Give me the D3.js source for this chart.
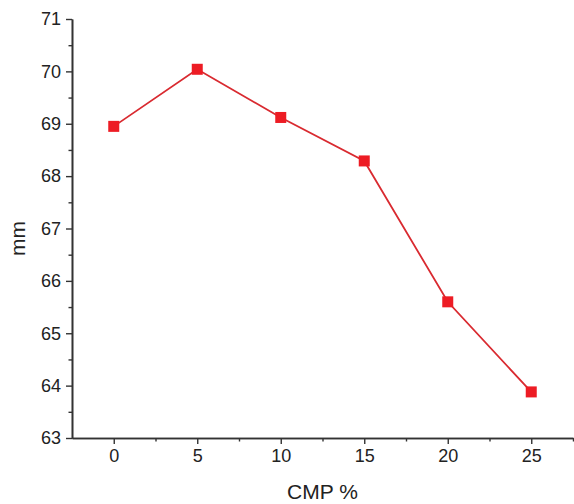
<!DOCTYPE html>
<html><head><meta charset="utf-8">
<script src="https://cdn.jsdelivr.net/npm/d3@7"></script>
<style>body{margin:0;background:#fff}svg{display:block}text{font-family:"Liberation Sans",Arial,sans-serif;fill:#222}</style>
</head><body><svg id="c" width="574" height="504"></svg>
<script>
const cmp = [0, 5, 10, 15, 20, 25];
const mm = [68.95, 70.04, 69.12, 68.29, 65.60, 63.88];
const xTicks = [0, 5, 10, 15, 20, 25];
const yTicks = [63, 64, 65, 66, 67, 68, 69, 70, 71];
const xTitle = "CMP %";
const yTitle = "mm";

const svg = d3.select("#c");
const L = 72, R = 573, T = 19, B = 438;
const x = d3.scaleLinear().domain([-2.5, 27.5]).range([L, R]);
const y = d3.scaleLinear().domain([63, 71]).range([B, T]);

const axisColor = "#333";
const xMinor = d3.range(-2.5, 27.6, 2.5).filter(v => !xTicks.includes(v) && v > -2.5);
const yMinor = d3.range(63.5, 71, 1);

const gx = svg.append("g").attr("transform", `translate(0,${B})`)
  .call(d3.axisBottom(x).tickValues(xTicks).tickSize(6).tickPadding(5).tickSizeOuter(0));
gx.append("g").call(d3.axisBottom(x).tickValues(xMinor).tickSize(3.5).tickFormat("").tickSizeOuter(0));
const gy = svg.append("g").attr("transform", `translate(${L},0)`)
  .call(d3.axisLeft(y).tickValues(yTicks).tickSize(6).tickPadding(5).tickSizeOuter(0));
gy.append("g").call(d3.axisLeft(y).tickValues(yMinor).tickSize(3.5).tickFormat("").tickSizeOuter(0));

svg.selectAll(".domain").attr("stroke", axisColor).attr("stroke-width", 1.6);
svg.selectAll(".tick line").attr("stroke", axisColor).attr("stroke-width", 1.4);
svg.selectAll(".tick text").attr("font-size", 18).attr("fill", "#2a2a2a")
  .style("font-family", '"Liberation Sans",Arial,sans-serif');

svg.append("text").attr("x", (L + R) / 2).attr("y", 499).attr("text-anchor", "middle")
  .attr("font-size", 21).text(xTitle);
svg.append("text").attr("transform", `translate(25,${(T + B) / 2 + 10}) rotate(-90)`)
  .attr("text-anchor", "middle").attr("font-size", 21).text(yTitle);

const pts = cmp.map((c, i) => [c, mm[i]]);
svg.append("path").datum(pts)
  .attr("fill", "none").attr("stroke", "#d92a30").attr("stroke-width", 1.8)
  .attr("d", d3.line().x(d => x(d[0])).y(d => y(d[1])));
const s = 11;
svg.selectAll("rect.m").data(pts).join("rect").attr("class", "m")
  .attr("x", d => x(d[0]) - s / 2).attr("y", d => y(d[1]) - s / 2)
  .attr("width", s).attr("height", s).attr("fill", "#ed1c24");
</script></body></html>
